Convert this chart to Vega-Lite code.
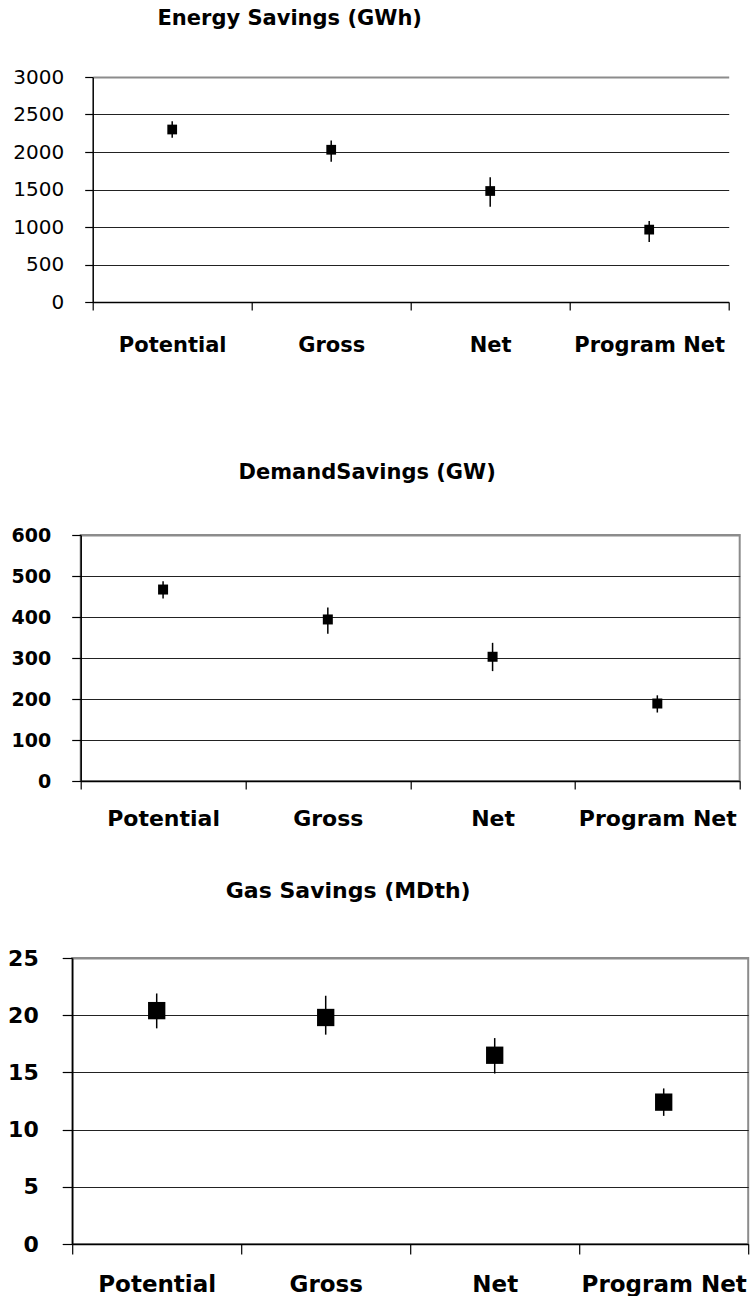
{
  "$schema": "https://vega.github.io/schema/vega-lite/v6.json",
  "background": "white",
  "padding": {"left": 6, "top": 8, "right": 0, "bottom": 0},
  "spacing": 20,
  "align": {"row": "none", "column": "each"},
  "center": {"row": false, "column": true},
  "config": {
    "font": "DejaVu Sans",
    "view": {"stroke": null},
    "axis": {"labelColor": "#000", "tickColor": "#000", "domainColor": "#000", "domainWidth": 1.5, "tickWidth": 1.2, "labelFont": "DejaVu Sans", "titleFont": "DejaVu Sans"}
  },
  "vconcat": [
    {
      "title": {"text": "Energy Savings (GWh)", "anchor": "middle", "frame": "group", "dx": -121, "offset": 21, "baseline": "alphabetic", "fontSize": 21, "fontWeight": "bold", "font": "DejaVu Sans", "color": "#000"},
      "width": 636,
      "height": 225,
      "data": {"values": [
        {"category": "Potential", "value": 2300, "lo": 2190, "hi": 2410},
        {"category": "Gross", "value": 2030, "lo": 1870, "hi": 2155},
        {"category": "Net", "value": 1480, "lo": 1270, "hi": 1665},
        {"category": "Program Net", "value": 965, "lo": 800, "hi": 1080}
      ]},
      "encoding": {
        "x": {"field": "category", "type": "nominal", "sort": ["Potential", "Gross", "Net", "Program Net"],
          "scale": {"paddingInner": 0, "paddingOuter": 0},
          "axis": {"title": null, "labelAngle": 0, "labelFontSize": 21, "labelFontWeight": "bold", "labelPadding": 24, "tickSize": 8, "tickBand": "extent", "grid": false, "minExtent": 139, "labelOverlap": false}}
      },
      "layer": [
        {
          "mark": {"type": "rule", "strokeWidth": 1.5, "color": "#000"},
          "encoding": {
            "y": {"field": "lo", "type": "quantitative", "scale": {"domain": [0, 3000], "nice": false},
              "axis": {"title": null, "values": [0, 500, 1000, 1500, 2000, 2500, 3000], "format": "d", "labelFontSize": 20, "labelFontWeight": "normal", "labelPadding": 21, "tickSize": 8, "grid": true,
                "gridColor": {"condition": {"test": "datum.value === 3000", "value": "#8c8c8c"}, "value": "#222"},
                "gridWidth": {"condition": {"test": "datum.value === 3000", "value": 2}, "value": 1.2},
                "labelFlush": false, "labelOverlap": false}},
            "y2": {"field": "hi"}
          }
        },
        {
          "mark": {"type": "point", "shape": "square", "filled": true, "size": 95, "color": "#000", "opacity": 1},
          "encoding": {"y": {"field": "value", "type": "quantitative", "scale": {"domain": [0, 3000], "nice": false},
              "axis": {"title": null, "values": [0, 500, 1000, 1500, 2000, 2500, 3000], "format": "d", "labelFontSize": 20, "labelFontWeight": "normal", "labelPadding": 21, "tickSize": 8, "grid": true,
                "gridColor": {"condition": {"test": "datum.value === 3000", "value": "#8c8c8c"}, "value": "#222"},
                "gridWidth": {"condition": {"test": "datum.value === 3000", "value": 2}, "value": 1.2},
                "labelFlush": false, "labelOverlap": false}}}
        }
      ]
    },
    {
      "title": {"text": "DemandSavings (GW)", "anchor": "middle", "frame": "group", "dx": -43, "offset": 26, "baseline": "alphabetic", "fontSize": 21, "fontWeight": "bold", "font": "DejaVu Sans", "color": "#000"},
      "width": 659,
      "height": 246,
      "view": {"stroke": "#8c8c8c", "strokeWidth": 2},
      "data": {"values": [
        {"category": "Potential", "value": 467, "lo": 445, "hi": 487},
        {"category": "Gross", "value": 394, "lo": 359, "hi": 423},
        {"category": "Net", "value": 303, "lo": 268, "hi": 337},
        {"category": "Program Net", "value": 189, "lo": 167, "hi": 209}
      ]},
      "encoding": {
        "x": {"field": "category", "type": "nominal", "sort": ["Potential", "Gross", "Net", "Program Net"],
          "scale": {"paddingInner": 0, "paddingOuter": 0},
          "axis": {"title": null, "labelAngle": 0, "labelFontSize": 22, "labelFontWeight": "bold", "labelPadding": 19, "tickSize": 8, "tickBand": "extent", "grid": false, "minExtent": 77, "labelOverlap": false}}
      },
      "layer": [
        {
          "mark": {"type": "rule", "strokeWidth": 1.5, "color": "#000"},
          "encoding": {
            "y": {"field": "lo", "type": "quantitative", "scale": {"domain": [0, 600], "nice": false},
              "axis": {"title": null, "values": [0, 100, 200, 300, 400, 500, 600], "format": "d", "labelFontSize": 19, "labelFontWeight": "bold", "labelPadding": 21, "tickSize": 9, "grid": true,
                "gridColor": {"condition": {"test": "datum.value === 600", "value": "#8c8c8c"}, "value": "#222"},
                "gridWidth": {"condition": {"test": "datum.value === 600", "value": 2}, "value": 1.2},
                "labelFlush": false, "labelOverlap": false}},
            "y2": {"field": "hi"}
          }
        },
        {
          "mark": {"type": "point", "shape": "square", "filled": true, "size": 100, "color": "#000", "opacity": 1},
          "encoding": {"y": {"field": "value", "type": "quantitative", "scale": {"domain": [0, 600], "nice": false},
              "axis": {"title": null, "values": [0, 100, 200, 300, 400, 500, 600], "format": "d", "labelFontSize": 19, "labelFontWeight": "bold", "labelPadding": 21, "tickSize": 9, "grid": true,
                "gridColor": {"condition": {"test": "datum.value === 600", "value": "#8c8c8c"}, "value": "#222"},
                "gridWidth": {"condition": {"test": "datum.value === 600", "value": 2}, "value": 1.2},
                "labelFlush": false, "labelOverlap": false}}}
        }
      ]
    },
    {
      "title": {"text": "Gas Savings (MDth)", "anchor": "middle", "frame": "group", "dx": -62, "offset": 27, "baseline": "alphabetic", "fontSize": 22, "fontWeight": "bold", "font": "DejaVu Sans", "color": "#000"},
      "width": 676,
      "height": 286,
      "view": {"stroke": "#8c8c8c", "strokeWidth": 2},
      "data": {"values": [
        {"category": "Potential", "value": 20.4, "lo": 18.85, "hi": 21.9},
        {"category": "Gross", "value": 19.8, "lo": 18.3, "hi": 21.7},
        {"category": "Net", "value": 16.5, "lo": 14.9, "hi": 18.0},
        {"category": "Program Net", "value": 12.4, "lo": 11.2, "hi": 13.6}
      ]},
      "encoding": {
        "x": {"field": "category", "type": "nominal", "sort": ["Potential", "Gross", "Net", "Program Net"],
          "scale": {"paddingInner": 0, "paddingOuter": 0},
          "axis": {"title": null, "labelAngle": 0, "labelFontSize": 23, "labelFontWeight": "bold", "labelPadding": 19, "tickSize": 10, "tickBand": "extent", "grid": false, "labelOverlap": false}}
      },
      "layer": [
        {
          "mark": {"type": "rule", "strokeWidth": 1.5, "color": "#000"},
          "encoding": {
            "y": {"field": "lo", "type": "quantitative", "scale": {"domain": [0, 25], "nice": false},
              "axis": {"title": null, "values": [0, 5, 10, 15, 20, 25], "format": "d", "labelFontSize": 22, "labelFontWeight": "bold", "labelPadding": 24, "tickSize": 10, "grid": true,
                "gridColor": {"condition": {"test": "datum.value === 25", "value": "#8c8c8c"}, "value": "#222"},
                "gridWidth": {"condition": {"test": "datum.value === 25", "value": 2}, "value": 1.2},
                "labelFlush": false, "labelOverlap": false}},
            "y2": {"field": "hi"}
          }
        },
        {
          "mark": {"type": "point", "shape": "square", "filled": true, "size": 300, "color": "#000", "opacity": 1},
          "encoding": {"y": {"field": "value", "type": "quantitative", "scale": {"domain": [0, 25], "nice": false},
              "axis": {"title": null, "values": [0, 5, 10, 15, 20, 25], "format": "d", "labelFontSize": 22, "labelFontWeight": "bold", "labelPadding": 24, "tickSize": 10, "grid": true,
                "gridColor": {"condition": {"test": "datum.value === 25", "value": "#8c8c8c"}, "value": "#222"},
                "gridWidth": {"condition": {"test": "datum.value === 25", "value": 2}, "value": 1.2},
                "labelFlush": false, "labelOverlap": false}}}
        }
      ]
    }
  ]
}
